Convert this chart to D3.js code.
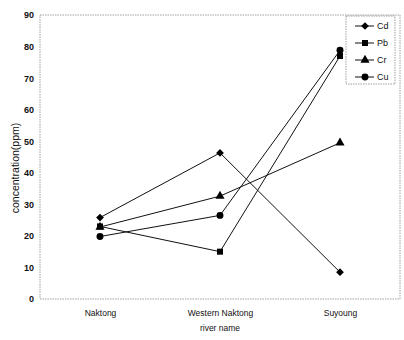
<!DOCTYPE html>
<html>
<head>
<meta charset="utf-8">
<script src="https://cdn.jsdelivr.net/npm/d3@7"></script>
<style>
    body { margin: 0; background: #fff; }
    text { font-family: "Liberation Sans", Arial, sans-serif; fill: #111; }
</style>
</head>
<body>
<script>
const rivers = ['Naktong', 'Western Naktong', 'Suyoung'];
const cdValues = [25.8, 46.3, 8.5];
const pbValues = [23, 15, 77];
const crValues = [22.8, 32.6, 49.5];
const cuValues = [19.8, 26.5, 78.8];
const seriesNames = ['Cd', 'Pb', 'Cr', 'Cu'];
const yTicks = [0, 10, 20, 30, 40, 50, 60, 70, 80, 90];

const svgWidth = 404;
const svgHeight = 340;
const plot = {L: 40, R: 400, T: 15, B: 299};

// diamond = square turned 45 degrees
const series = [
    {name: 'Cd', values: cdValues, symbol: d3.symbolSquare, size: 30, rot: 45},
    {name: 'Pb', values: pbValues, symbol: d3.symbolSquare, size: 36, rot: 0},
    {name: 'Cr', values: crValues, symbol: d3.symbolTriangle, size: 36, rot: 0},
    {name: 'Cu', values: cuValues, symbol: d3.symbolCircle, size: 38, rot: 0}
];

const svg = d3.select('body').append('svg')
    .attr('width', svgWidth)
    .attr('height', svgHeight);

const scaleX = d3.scalePoint()
    .domain(rivers)
    .range([plot.L, plot.R])
    .padding(0.5);

const scaleY = d3.scaleLinear()
    .domain([0, 90])
    .range([plot.B, plot.T]);

// plot frame
svg.append('rect')
    .attr('x', plot.L).attr('y', plot.T)
    .attr('width', plot.R - plot.L).attr('height', plot.B - plot.T)
    .attr('fill', 'none')
    .attr('stroke', '#888')
    .attr('stroke-width', 0.8)
    .attr('stroke-dasharray', '1.5,1');

// y axis
const yAxis = svg.append('g')
    .attr('transform', `translate(${plot.L},0)`)
    .call(d3.axisLeft(scaleY).tickValues(yTicks).tickSize(0).tickPadding(6));
yAxis.select('.domain').remove();
yAxis.selectAll('text')
    .style('font-size', '9px')
    .style('font-weight', 'bold')
    .style('fill', '#111');

// x axis
const xAxis = svg.append('g')
    .attr('transform', `translate(0,${plot.B})`)
    .call(d3.axisBottom(scaleX).tickSize(0).tickPadding(11));
xAxis.select('.domain').remove();
xAxis.selectAll('text')
    .style('font-size', '8.5px')
    .style('fill', '#111');

svg.append('text')
    .attr('x', scaleX('Western Naktong'))
    .attr('y', 331)
    .attr('text-anchor', 'middle')
    .style('font-size', '8.5px')
    .text('river name');

svg.append('text')
    .attr('transform', `translate(19,168) rotate(-90)`)
    .attr('text-anchor', 'middle')
    .style('font-size', '10.5px')
    .text('concentration(ppm)');

// lines
const line = d3.line()
    .x((d, i) => scaleX(rivers[i]))
    .y(d => scaleY(d));

const gLines = svg.append('g');
series.forEach(s => {
    gLines.append('path')
        .datum(s.values)
        .attr('d', line)
        .attr('fill', 'none')
        .attr('stroke', '#111')
        .attr('stroke-width', 1);
    gLines.append('g')
        .selectAll('path')
        .data(s.values)
        .join('path')
        .attr('transform', (d, i) => `translate(${scaleX(rivers[i])},${scaleY(d)}) rotate(${s.rot})`)
        .attr('d', d3.symbol().type(s.symbol).size(s.size))
        .attr('fill', '#000');
});

// legend
const legend = svg.append('g');
legend.append('rect')
    .attr('x', 346).attr('y', 16)
    .attr('width', 49).attr('height', 68)
    .attr('fill', '#fff')
    .attr('stroke', '#888')
    .attr('stroke-width', 0.8)
    .attr('stroke-dasharray', '1.5,1');

const legendY = d3.scalePoint()
    .domain(seriesNames)
    .range([26, 77]);

const items = legend.selectAll('g.item')
    .data(series)
    .join('g')
    .attr('class', 'item')
    .attr('transform', d => `translate(0,${legendY(d.name)})`);
items.append('line')
    .attr('x1', 355).attr('x2', 374)
    .attr('stroke', '#111').attr('stroke-width', 1);
items.append('path')
    .attr('transform', d => `translate(365,0) rotate(${d.rot})`)
    .attr('d', d => d3.symbol().type(d.symbol).size(d.size)())
    .attr('fill', '#000');
items.append('text')
    .attr('x', 377)
    .attr('dy', '0.35em')
    .style('font-size', '9px')
    .text(d => d.name);
</script>
</body>
</html>
